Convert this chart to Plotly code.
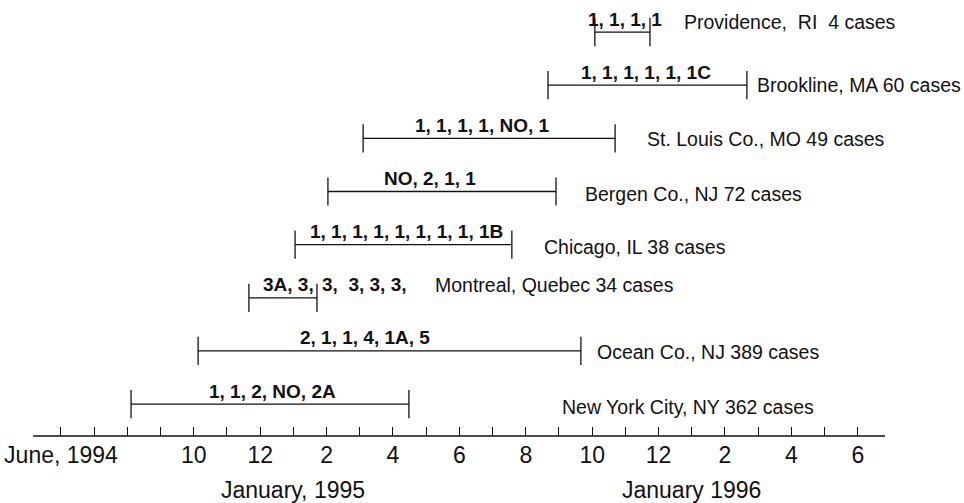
import plotly.graph_objects as go

# ---- data (months counted from June 1994 = 0) ----
sites = [
    "New York City, NY 362 cases",
    "Ocean Co., NJ 389 cases",
    "Montreal, Quebec 34 cases",
    "Chicago, IL 38 cases",
    "Bergen Co., NJ 72 cases",
    "St. Louis Co., MO 49 cases",
    "Brookline, MA 60 cases",
    "Providence,\u00a0\u00a0RI\u00a0\u00a04 cases",
]
start_month = [2.11, 4.13, 5.66, 7.05, 8.04, 9.10, 14.67, 16.08]
end_month = [10.48, 15.66, 7.71, 13.58, 14.91, 16.69, 20.66, 17.74]
patterns = [
    "1, 1, 2, NO, 2A",
    "2, 1, 1, 4, 1A, 5",
    "3A, 3,",
    "1, 1, 1, 1, 1, 1, 1, 1, 1B",
    "NO, 2, 1, 1",
    "1, 1, 1, 1, NO, 1",
    "1, 1, 1, 1, 1, 1C",
    "1, 1, 1, 1",
]
patterns_after = ["", "", "3,\u00a0\u00a03, 3, 3,", "", "", "", "", ""]

tick_months = list(range(0, 25))
tick_labels = ["June, 1994", "", "", "", "10", "", "12", "", "2", "", "4", "", "6",
               "", "8", "", "10", "", "12", "", "2", "", "4", "", "6"]
year_marks = [7, 19]
year_labels = ["January, 1995", "January 1996"]

# ---- layout helpers (positions/styles) ----
label_x = [15.03, 16.08, 11.20, 14.49, 15.72, 17.59, 20.90, 18.70]
label_shift = [-3, -1, 13, -2, -2, -1, 0, 10]
pattern_shift = [3, -25, 6, 3, -12, -7, -1, 3]
half_h = 0.265

rows = list(range(len(sites)))
xs, ys = [], []
for r, s, e in zip(rows, start_month, end_month):
    xs += [s, s, None, s, e, None, e, e, None]
    ys += [r - half_h, r + half_h, None, r, r, None, r - half_h, r + half_h, None]

fig = go.Figure()
fig.add_trace(go.Scatter(x=xs, y=ys, mode="lines",
                         line=dict(color="#111111", width=1.3),
                         hoverinfo="skip", showlegend=False))

font_txt = "Liberation Sans, Arial, sans-serif"
num_font = dict(family=font_txt, size=19, color="#111111", weight="bold")
ann = []
for r, s, e, p, pa, sh in zip(rows, start_month, end_month, patterns, patterns_after, pattern_shift):
    ann.append(dict(x=(s + e) / 2, y=r, xref="x", yref="y", text=p, showarrow=False,
                    xanchor="center", yanchor="middle", xshift=sh, yshift=13,
                    font=num_font))
    if pa:
        ann.append(dict(x=e, y=r, xref="x", yref="y", text=pa, showarrow=False,
                        xanchor="left", yanchor="middle", xshift=3, yshift=13,
                        font=num_font))
for r, name, lx, ls in zip(rows, sites, label_x, label_shift):
    ann.append(dict(x=lx, y=r, xref="x", yref="y", text=name, showarrow=False,
                    xanchor="left", yanchor="middle", yshift=ls,
                    font=dict(family=font_txt, size=19.5, color="#111111")))
for m, t in zip(year_marks, year_labels):
    ann.append(dict(x=m, y=0, xref="x", yref="paper", text=t, showarrow=False,
                    xanchor="center", yanchor="middle", yshift=-54,
                    font=dict(family=font_txt, size=23, color="#111111")))

fig.add_shape(type="line", xref="x", yref="paper", x0=-0.84, x1=24.82, y0=0, y1=0,
              line=dict(color="#111111", width=1.3))

fig.update_layout(
    width=964, height=503,
    margin=dict(l=0, r=0, t=0, b=67),
    paper_bgcolor="white", plot_bgcolor="white",
    annotations=ann,
    xaxis=dict(range=[-1.837, 27.199], tickmode="array", tickvals=tick_months,
               ticktext=tick_labels, ticks="inside", ticklen=9, tickwidth=1,
               tickcolor="#111111", showgrid=False, zeroline=False, showline=False,
               tickfont=dict(family=font_txt, size=23, color="#111111"),
               ticklabelstandoff=3),
    yaxis=dict(range=[-0.600, 7.603], visible=False, showgrid=False, zeroline=False),
)
fig.write_html("out.html", config={"displayModeBar": False})

# remove the browser's default page margin so the figure sits at the window origin
with open("out.html", "r", encoding="utf-8") as f:
    html = f.read()
html = html.replace("<head>", "<head><style>html,body{margin:0;padding:0;overflow:hidden;}</style>", 1)
with open("out.html", "w", encoding="utf-8") as f:
    f.write(html)
